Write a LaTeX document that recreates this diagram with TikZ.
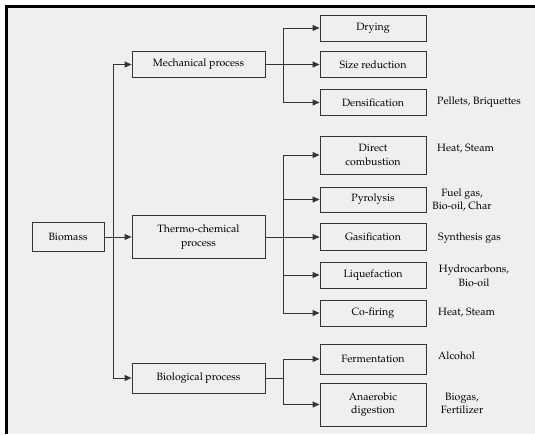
\documentclass[tikz,border=0pt]{standalone}
\usepackage[T1]{fontenc}
\usepackage{mathpazo}
\usetikzlibrary{arrows.meta}
\definecolor{bg}{HTML}{EFEFEF}
\definecolor{ln}{HTML}{353535}
\tikzset{
  pbox/.style={draw=ln, fill=bg, line width=0.9pt, inner sep=0pt, align=center, font=\fontsize{10.6}{13.5}\selectfont},
  arr/.style={draw=ln, line width=0.9pt, -{Triangle[length=7pt,width=6pt]}},
  conn/.style={draw=ln, line width=0.9pt},
  lab/.style={font=\fontsize{10.6}{13.5}\selectfont, inner sep=0pt}
}
\begin{document}
\begin{tikzpicture}[x=1pt,y=-1pt]
\useasboundingbox (0,0) rectangle (535,434);
\fill[white] (0,0) rectangle (535,434);
\fill[bg] (6.5,6.5) rectangle (535,434);
\draw[black, line width=2.5pt] (6.5,434) -- (6.5,6.5) -- (535,6.5);

\node[pbox, minimum width=72pt, minimum height=29pt] (bio) at (68,237) {Biomass};
\node[pbox, minimum width=133pt, minimum height=26pt] (mech) at (198.5,64.5) {Mechanical process};
\node[pbox, minimum width=133pt, minimum height=43pt] (thermo) at (198.5,237) {Thermo-chemical\\process};
\node[pbox, minimum width=133pt, minimum height=30pt] (biol) at (198.5,378) {Biological process};

\node[pbox, minimum width=106pt, minimum height=26pt] (dry) at (373,28) {Drying};
\node[pbox, minimum width=106pt, minimum height=26pt] (size) at (373,64.5) {Size reduction};
\node[pbox, minimum width=106pt, minimum height=26pt] (dens) at (373,102.5) {Densification};
\node[pbox, minimum width=106pt, minimum height=38pt] (dc) at (373,155) {Direct\\combustion};
\node[pbox, minimum width=106pt, minimum height=25pt] (pyr) at (373,199.5) {Pyrolysis};
\node[pbox, minimum width=106pt, minimum height=27pt] (gas) at (373,237) {Gasification};
\node[pbox, minimum width=106pt, minimum height=26pt] (liq) at (373,275) {Liquefaction};
\node[pbox, minimum width=106pt, minimum height=26pt] (cof) at (373,313) {Co-firing};
\node[pbox, minimum width=106pt, minimum height=30pt] (fer) at (373,359) {Fermentation};
\node[pbox, minimum width=106pt, minimum height=43pt] (ana) at (373,404.5) {Anaerobic\\digestion};

\node[lab, anchor=west] (l1) at (437,102.5) {Pellets, Briquettes};
\node[lab, anchor=west] (l2) at (437,149) {Heat, Steam};
\node[lab, align=center] (l3) at (462,200) {Fuel gas,\\Bio-oil, Char};
\node[lab, anchor=west] (l4) at (438,238) {Synthesis gas};
\node[lab, align=center] (l5) at (474,276) {Hydrocarbons,\\Bio-oil};
\node[lab, anchor=west] (l6) at (438,313) {Heat, Steam};
\node[lab, anchor=west] (l7) at (438,356) {Alcohol};
\node[lab, align=center] (l8) at (462,403.5) {Biogas,\\Fertilizer};

\coordinate (j0) at (113,0);
\coordinate (j1) at (283,0);

% Biomass branches
\draw[conn] (j0 |- mech) -- (j0 |- biol);
\draw[arr] (bio.east) -- (thermo.west);
\draw[arr] (j0 |- mech) -- (mech.west);
\draw[arr] (j0 |- biol) -- (biol.west);

% Mechanical
\draw[conn] (j1 |- dry) -- (j1 |- dens);
\draw[arr] (mech.east) -- (size.west);
\draw[arr] (j1 |- dry) -- (dry.west);
\draw[arr] (j1 |- dens) -- (dens.west);

% Thermo-chemical
\draw[conn] (j1 |- dc) -- (j1 |- cof);
\draw[arr] (thermo.east) -- (gas.west);
\draw[arr] (j1 |- dc) -- (dc.west);
\draw[arr] (j1 |- pyr) -- (pyr.west);
\draw[arr] (j1 |- liq) -- (liq.west);
\draw[arr] (j1 |- cof) -- (cof.west);

% Biological
\draw[conn] (biol.east) -- (j1 |- biol);
\draw[conn] (j1 |- fer) -- (j1 |- ana);
\draw[arr] (j1 |- fer) -- (fer.west);
\draw[arr] (j1 |- ana) -- (ana.west);
\end{tikzpicture}
\end{document}
